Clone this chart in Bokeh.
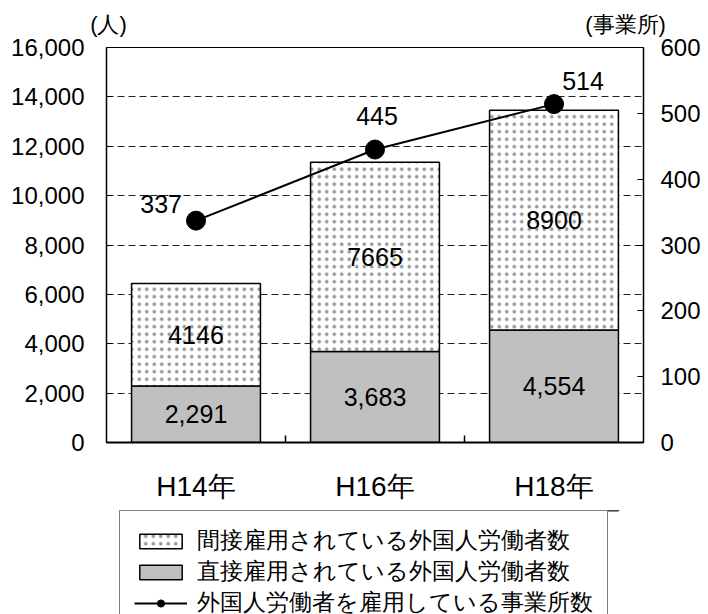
from bokeh.plotting import figure
from bokeh.layouts import column
from bokeh.models import (Range1d, LinearAxis, FixedTicker, NumeralTickFormatter,
                          ColumnDataSource, Legend, LegendItem)
from bokeh.core.properties import value
from bokeh.embed import file_html
from bokeh.resources import INLINE

# ---- data ----
categories = ["H14年", "H16年", "H18年"]
direct = [2291, 3683, 4554]          # 直接雇用
indirect = [4146, 7665, 8900]        # 間接雇用
offices = [337, 445, 514]            # 事業所数
left_ticks = [0, 2000, 4000, 6000, 8000, 10000, 12000, 14000, 16000]
right_ticks = [0, 100, 200, 300, 400, 500, 600]
series_names = ["間接雇用されている外国人労働者数",
                "直接雇用されている外国人労働者数",
                "外国人労働者を雇用している事業所数"]
unit_labels = ["(人)", "(事業所)"]

# ---- styles / placement ----
lbl_dx = [-14, 2, 29]
lbl_dy = [-17, -34, -23]
lbl_align = ["right", "center", "center"]
unit_pos = [0.011, 2.9]   # x positions (data units) of the unit captions above the frame

LATIN = "Liberation Sans"
BAR_W = 0.72
DIRECT_STYLE = dict(fill_color="#c0c0c0", line_color="black", line_width=1.5)
INDIRECT_STYLE = dict(fill_color="white", line_color="black", line_width=1.5,
                      hatch_pattern="dot", hatch_color="#999999", hatch_scale=7.5,
                      hatch_weight=1)
LINE_STYLE = dict(line_color="black", line_width=2)
PT_STYLE = dict(marker="circle", size=19, fill_color="black", line_color="black")

x = [i + 0.5 for i in range(len(categories))]
src = ColumnDataSource(dict(
    x=x,
    direct=direct,
    top=[d + i for d, i in zip(direct, indirect)],
    direct_mid=[d / 2 for d in direct],
    indirect_mid=[d + i / 2 for d, i in zip(direct, indirect)],
    direct_lbl=[f"{d:,}" for d in direct],
    indirect_lbl=[str(i) for i in indirect],
    offices=offices,
    office_lbl=[str(o) for o in offices],
    dx=lbl_dx, dy=lbl_dy, align=lbl_align,
))

# ================= main chart =================
p = figure(width=708, height=510, x_range=Range1d(0, len(categories)),
           y_range=Range1d(0, 16000), output_backend="svg", toolbar_location=None,
           min_border_left=106, min_border_right=65, min_border_top=47,
           min_border_bottom=68)
p.extra_y_ranges = {"office": Range1d(0, 600)}

p.outline_line_color = "black"
p.outline_line_width = 1
p.xgrid.visible = False
p.ygrid.ticker = FixedTicker(ticks=left_ticks)
p.ygrid.grid_line_color = "#222222"
p.ygrid.grid_line_dash = "7 4"
p.ygrid.grid_line_width = 1

# left axis
ly = p.left[0]
ly.ticker = FixedTicker(ticks=left_ticks)
ly.formatter = NumeralTickFormatter(format="0,0")
ly.major_label_text_font = LATIN
ly.major_label_text_font_size = "24px"
ly.major_label_text_color = "black"
ly.major_label_standoff = 22
ly.major_tick_in = 6
ly.major_tick_out = 0
ly.minor_tick_line_color = None
ly.axis_line_color = "black"
ly.axis_line_width = 1.5
ly.major_tick_line_color = "black"

# bottom axis
bx = p.below[0]
bx.ticker = FixedTicker(ticks=x, minor_ticks=[1, 2])
bx.major_label_overrides = {xi: c for xi, c in zip(x, categories)}
bx.major_label_text_font = LATIN
bx.major_label_text_font_size = "28px"
bx.major_label_text_color = "black"
bx.major_label_standoff = 28
bx.major_tick_in = 0
bx.major_tick_out = 0
bx.minor_tick_in = 7
bx.minor_tick_out = 0
bx.minor_tick_line_color = "black"
bx.minor_tick_line_width = 1.5
bx.axis_line_color = "black"
bx.axis_line_width = 2

# right axis
ry = LinearAxis(y_range_name="office", ticker=FixedTicker(ticks=right_ticks))
ry.major_label_text_font = LATIN
ry.major_label_text_font_size = "24px"
ry.major_label_text_color = "black"
ry.major_label_standoff = 17
ry.major_tick_in = 6
ry.major_tick_out = 0
ry.minor_tick_line_color = None
ry.axis_line_color = "black"
ry.axis_line_width = 1.5
p.add_layout(ry, "right")

# unit captions shown through a label-only axis above the frame
ux = LinearAxis(ticker=FixedTicker(ticks=unit_pos))
ux.major_label_overrides = {u: t for u, t in zip(unit_pos, unit_labels)}
ux.major_label_text_font = LATIN
ux.major_label_text_font_size = "22px"
ux.major_label_text_color = "black"
ux.major_label_standoff = 5
ux.axis_line_color = None
ux.major_tick_line_color = None
ux.minor_tick_line_color = None
p.add_layout(ux, "above")

# bars
p.vbar(x="x", bottom=0, top="direct", width=BAR_W, source=src, **DIRECT_STYLE)
p.vbar(x="x", bottom="direct", top="top", width=BAR_W, source=src, **INDIRECT_STYLE)

p.text(x="x", y="direct_mid", text="direct_lbl", source=src,
       text_font=value(LATIN), text_font_size="25px", text_color="black",
       text_align="center", text_baseline="middle")
p.text(x="x", y="indirect_mid", text="indirect_lbl", source=src,
       text_font=value(LATIN), text_font_size="25px", text_color="black",
       text_align="center", text_baseline="middle")

# line on right axis
p.line(x="x", y="offices", source=src, y_range_name="office", **LINE_STYLE)
p.scatter(x="x", y="offices", source=src, y_range_name="office", **PT_STYLE)
p.text(x="x", y="offices", text="office_lbl", source=src, y_range_name="office",
       x_offset="dx", y_offset="dy", text_align="align", text_baseline="middle",
       text_font=value(LATIN), text_font_size="25px", text_color="black")

# ================= legend strip =================
lg = figure(width=708, height=104, x_range=Range1d(0, len(categories)),
            y_range=Range1d(-2, -1), output_backend="svg", toolbar_location=None,
            x_axis_location=None, y_axis_location=None,
            min_border_left=0, min_border_right=0, min_border_top=0,
            min_border_bottom=0)
lg.outline_line_color = None
lg.grid.visible = False
# same series (out of this strip's view) serve as legend glyph sources
g_ind = lg.vbar(x="x", bottom="direct", top="top", width=BAR_W, source=src, **INDIRECT_STYLE)
g_dir = lg.vbar(x="x", bottom=0, top="direct", width=BAR_W, source=src, **DIRECT_STYLE)
g_line = lg.line(x="x", y="offices", source=src, **LINE_STYLE)
g_pts = lg.scatter(x="x", y="offices", source=src, **PT_STYLE)

legend = Legend(items=[
    LegendItem(label=series_names[0], renderers=[g_ind]),
    LegendItem(label=series_names[1], renderers=[g_dir]),
    LegendItem(label=series_names[2], renderers=[g_line, g_pts]),
], location=(13, -19), orientation="vertical",
    label_text_font=LATIN, label_text_font_size="23px", label_text_color="black",
    glyph_width=53, glyph_height=18, label_height=30, label_standoff=10,
    spacing=0, padding=14, margin=0,
    border_line_color="black", border_line_width=1,
    background_fill_color="white", background_fill_alpha=1)
lg.add_layout(legend, "center")

layout = column(p, lg, spacing=0)
open("out.html", "w").write(file_html(layout, INLINE))
